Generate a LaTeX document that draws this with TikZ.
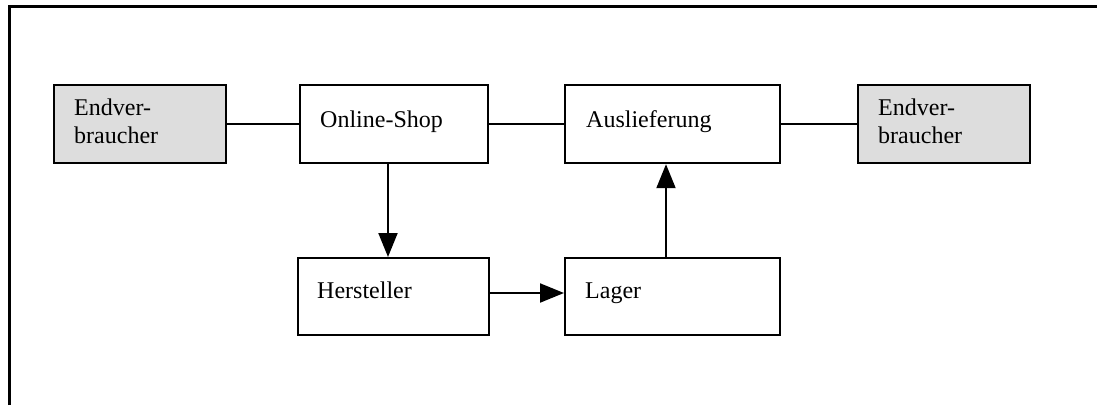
\documentclass[tikz,border=0pt]{standalone}
\usepackage{fontspec}
\setmainfont{Liberation Serif}
\usetikzlibrary{arrows.meta}
\definecolor{boxgray}{HTML}{DDDDDD}
\tikzset{
  box/.style={draw=black, line width=2.2pt, fill=white, inner sep=0pt, anchor=north west},
  graybox/.style={box, fill=boxgray},
  lbl/.style={anchor=base west, inner sep=0pt, font=\fontsize{24}{28}\selectfont, align=left},
  conn/.style={line width=2pt},
  arr/.style={conn, -{Triangle[length=24pt,width=19pt]}},
  frame/.style={line width=3pt}
}
\begin{document}
\begin{tikzpicture}[x=1pt,y=-1pt]
\useasboundingbox (0,0) rectangle (1097,405);
\coordinate (fl) at (9,405);
\coordinate (fc) at (9,6);
\coordinate (fr) at (1097,6);
\draw[frame] (fl) -- (fc) -- (fr);

\node[graybox, minimum width=172pt, minimum height=78pt] (e1) at (53,84) {};
\node[box, minimum width=188pt, minimum height=78pt] (shop) at (299,84) {};
\node[box, minimum width=215pt, minimum height=78pt] (aus) at (564,84) {};
\node[graybox, minimum width=172pt, minimum height=78pt] (e2) at (857,84) {};
\node[box, minimum width=191pt, minimum height=77pt] (her) at (297,257) {};
\node[box, minimum width=215pt, minimum height=77pt] (lag) at (564,257) {};

\node[lbl] (te1) at (74,143) {Endver-\\braucher};
\node[lbl] (tshop) at (320,127) {Online-Shop};
\node[lbl] (taus) at (586,127) {Auslieferung};
\node[lbl] (te2) at (878,143) {Endver-\\braucher};
\node[lbl] (ther) at (317,298) {Hersteller};
\node[lbl] (tlag) at (585,298) {Lager};

\draw[conn] (e1.east) -- (shop.west);
\draw[conn] (shop.east) -- (aus.west);
\draw[conn] (aus.east) -- (e2.east -| e2.west);
\draw[arr] (shop.south -| 388,0) -- (her.north -| 388,0);
\draw[arr] (her.east |- 0,293) -- (lag.west |- 0,293);
\draw[arr] (lag.north -| 666,0) -- (aus.south -| 666,0);
\end{tikzpicture}
\end{document}
